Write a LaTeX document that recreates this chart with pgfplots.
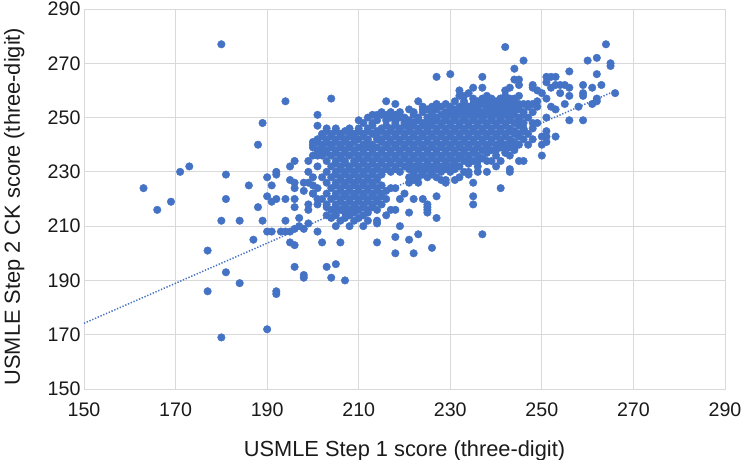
\documentclass[border=0pt]{standalone}
\usepackage{pgfplots}
\pgfplotsset{compat=1.18}
\usepackage{fontspec}
\setmainfont{Liberation Sans}
\definecolor{ptblue}{HTML}{4472C4}
\definecolor{gridgray}{HTML}{D9D9D9}
\definecolor{txt}{HTML}{1A1A1A}
\begin{document}
\begin{tikzpicture}
\path[use as bounding box] (-84bp,-71bp) rectangle (660bp,389bp);
\begin{axis}[
  at={(0,0)}, anchor=south west, scale only axis, width=641bp, height=380bp,
  xmin=150, xmax=290, ymin=150, ymax=290,
  xtick={150,170,...,290}, ytick={150,170,...,290},
  grid=major, major grid style={draw=gridgray, line width=0.9bp},
  axis line style={draw=gridgray, line width=0.9bp},
  major tick length=0pt,
  /pgf/number format/assume math mode=true,
  tick label style={font=\fontsize{19.7}{22}\selectfont, text=txt},
  xticklabel style={anchor=center, yshift=-21bp},
  label style={font=\fontsize{21.9}{25}\selectfont, text=txt},
  xlabel={USMLE Step 1 score (three-digit)},
  ylabel={USMLE Step 2 CK score (three-digit)},
  xlabel style={at={(axis description cs:0.5,-0.162)}, anchor=center},
  ylabel style={at={(axis description cs:-0.109,0.48)}, anchor=center},
]
\addplot[only marks, mark=*, mark size=3.8bp, mark options={draw=ptblue, fill=ptblue}] coordinates {
(180,277) (194,256) (204,257) (201,251) (201,247) (189,248) (188,240) (200,241) (203,245) (203,241) (201,236) (202,238) (195,232) (196,234) (173,232) (171,230) (181,229) (163,224) (169,219) (166,216) (181,220) (186,225) (190,228) (192,230) (192,229) (191,225) (195,227) (196,226) (196,224) (198,226) (198,223) (200,225) (200,222) (190,221) (191,219) (192,220) (194,220) (196,220) (196,217) (199,218) (199,216) (201,220) (188,217) (180,212) (184,212) (189,212) (194,212) (197,213) (199,211) (190,208) (191,208) (193,208) (194,208) (195,208) (196,209) (197,210) (198,209) (201,208) (203,217) (187,205) (195,204) (196,203) (202,204) (177,201) (181,193) (184,189) (177,186) (192,186) (192,185) (196,195) (198,192) (198,191) (203,195) (204,191) (190,172) (180,169)
(205,210) (206,204) (214,204) (218,206) (218,200) (221,205) (223,207) (222,200) (226,202) (205,196) (207,190) (219,210) (227,213) (227,221) (225,216) (225,218) (224,220) (222,220) (221,215) (219,220) (220,222) (217,216) (218,216) (214,212) (214,211) (212,212) (229,227) (231,227) (232,228)
(250,243) (250,240) (250,236) (244,239) (241,234) (245,234) (246,234) (243,231) (238,230) (241,224) (235,226) (235,221) (235,218) (225,217) (225,215) (228,227) (229,226) (234,229) (237,235) (235,234) (238,234) (240,238) (242,240) (241,240) (244,245) (244,244) (243,230) (234,230) (237,207)
(227,265) (230,266) (232,260) (232,258) (216,256) (218,255) (223,256) (224,252) (230,254) (220,250) (221,248) (215,251) (214,249) (215,246) (210,246) (210,245) (209,243) (207,242) (214,242) (207,245) (210,249) (211,248) (214,245) (214,251) (215,252) (216,249) (219,252) (224,253) (222,248) (225,249) (246,271) (237,265) (244,268) (245,264) (245,262) (243,261) (242,260) (248,262) (249,260) (251,265) (235,261) (237,261) (234,259) (233,258) (238,258) (239,257) (241,257) (242,258) (244,257) (245,258) (246,255) (247,255) (249,256) (249,254) (229,255) (224,254) (231,253) (233,253) (235,253) (238,255) (239,254) (241,253) (242,254) (244,255) (245,253) (228,251) (226,250) (225,248) (248,248) (251,245) (251,243) (242,276) (264,277) (260,271) (262,272) (265,270) (265,269) (256,267) (262,266) (244,264) (251,263) (252,265) (253,265) (253,262) (254,262) (255,262) (256,261) (248,261) (250,259) (252,261) (259,262) (261,261) (263,262) (256,258) (259,258) (254,259) (266,259) (262,256) (261,255) (251,257) (255,255) (258,254) (252,254) (253,253) (251,250) (256,249) (259,249) (251,241) (253,243) (259,259) (262,257)
(231,256) (233,256) (236,256) (238,256) (240,256) (242,256) (244,256)
(226,254) (228,254) (232,254) (234,254) (236,254) (238,254) (240,254) (243,254) (247,254)
(217,252) (222,252) (226,252) (229,252) (231,252) (233,252) (235,252) (237,252) (239,252) (241,252) (243,252) (246,252) (248,252)
(212,250) (217,250) (219,250) (223,250) (225,250) (227,250) (229,250) (231,250) (233,250) (235,250) (237,250) (239,250) (241,250) (243,250) (245,250) (247,250)
(213,248) (218,248) (220,248) (222,248) (224,248) (226,248) (228,248) (230,248) (232,248) (234,248) (236,248) (238,248) (240,248) (242,248) (244,248) (246,248) (249,248)
(203,246) (205,246) (208,246) (212,246) (217,246) (219,246) (221,246) (223,246) (225,246) (227,246) (229,246) (231,246) (233,246) (235,246) (237,246) (239,246) (241,246) (243,246) (246,246) (248,246)
(202,244) (204,244) (206,244) (209,244) (211,244) (213,244) (216,244) (218,244) (220,244) (222,244) (224,244) (226,244) (228,244) (230,244) (232,244) (234,244) (236,244) (238,244) (240,244) (242,244) (245,244) (247,244)
(201,242) (203,242) (205,242) (207,242) (210,242) (212,242) (215,242) (217,242) (219,242) (221,242) (223,242) (225,242) (227,242) (229,242) (231,242) (233,242) (235,242) (237,242) (239,242) (241,242) (243,242) (246,242) (248,242)
(200,240) (202,240) (204,240) (206,240) (208,240) (211,240) (213,240) (216,240) (218,240) (220,240) (222,240) (224,240) (226,240) (228,240) (230,240) (232,240) (234,240) (236,240) (238,240) (240,240) (243,240) (245,240) (247,240)
(201,238) (203,238) (205,238) (207,238) (209,238) (211,238) (213,238) (215,238) (217,238) (219,238) (221,238) (223,238) (225,238) (227,238) (229,238) (231,238) (233,238) (235,238) (237,238) (239,238) (242,238) (244,238)
(200,236) (202,236) (204,236) (206,236) (208,236) (210,236) (212,236) (214,236) (216,236) (218,236) (220,236) (222,236) (224,236) (226,236) (228,236) (230,236) (232,236) (234,236) (236,236) (240,236) (243,236)
(199,234) (203,234) (205,234) (207,234) (209,234) (211,234) (213,234) (215,234) (217,234) (219,234) (221,234) (223,234) (225,234) (227,234) (229,234) (231,234) (233,234) (236,234) (239,234)
(201,232) (204,232) (206,232) (208,232) (210,232) (212,232) (214,232) (216,232) (218,232) (220,232) (222,232) (224,232) (226,232) (228,232) (230,232) (232,232) (236,232) (240,232)
(199,230) (203,230) (205,230) (207,230) (209,230) (211,230) (213,230) (215,230) (217,230) (219,230) (222,230) (224,230) (226,230) (228,230) (230,230) (233,230) (236,230)
(200,228) (202,228) (204,228) (206,228) (208,228) (210,228) (212,228) (214,228) (221,228) (223,228) (225,228) (227,228)
(199,226) (203,226) (205,226) (207,226) (209,226) (211,226) (213,226) (221,226) (223,226)
(201,224) (204,224) (206,224) (208,224) (210,224) (212,224) (214,224) (217,224) (218,224)
(200,222) (203,222) (205,222) (207,222) (209,222) (211,222) (213,222) (215,222)
(202,220) (204,220) (206,220) (208,220) (210,220) (212,220) (214,220) (216,220)
(201,218) (203,218) (205,218) (207,218) (209,218) (211,218) (213,218) (215,218)
(204,216) (206,216) (208,216) (210,216) (212,216) (214,216)
(203,214) (205,214) (208,214) (211,214) (216,214)
(206,212) (209,212) (208,210) (211,210)
(235,257) (237,257) (241,257) (243,257)
(227,255) (233,255) (235,255) (237,255) (239,255) (241,255) (243,255) (245,255) (248,255)
(221,253) (225,253) (227,253) (230,253) (232,253) (234,253) (236,253) (238,253) (240,253) (242,253) (244,253)
(213,251) (216,251) (218,251) (222,251) (226,251) (230,251) (232,251) (234,251) (236,251) (238,251) (240,251) (242,251) (244,251) (246,251)
(218,249) (221,249) (223,249) (227,249) (229,249) (231,249) (233,249) (235,249) (237,249) (239,249) (241,249) (243,249) (245,249)
(213,247) (216,247) (218,247) (220,247) (222,247) (224,247) (226,247) (228,247) (230,247) (232,247) (234,247) (236,247) (238,247) (240,247) (242,247) (245,247)
(205,245) (208,245) (210,245) (212,245) (215,245) (217,245) (219,245) (221,245) (223,245) (225,245) (227,245) (229,245) (231,245) (233,245) (235,245) (237,245) (239,245) (241,245) (243,245) (246,245)
(202,243) (204,243) (206,243) (208,243) (211,243) (214,243) (216,243) (218,243) (220,243) (222,243) (224,243) (226,243) (228,243) (230,243) (232,243) (234,243) (236,243) (238,243) (240,243) (242,243) (245,243)
(201,241) (203,241) (205,241) (207,241) (209,241) (212,241) (215,241) (217,241) (219,241) (221,241) (223,241) (225,241) (227,241) (229,241) (231,241) (233,241) (235,241) (237,241) (239,241) (241,241) (244,241)
(200,239) (202,239) (204,239) (206,239) (208,239) (210,239) (212,239) (214,239) (216,239) (218,239) (220,239) (222,239) (224,239) (226,239) (228,239) (230,239) (232,239) (234,239) (236,239) (238,239) (241,239) (243,239)
(201,237) (203,237) (205,237) (207,237) (209,237) (211,237) (213,237) (215,237) (217,237) (219,237) (221,237) (223,237) (225,237) (227,237) (229,237) (231,237) (233,237) (235,237) (238,237) (242,237)
(206,235) (210,235) (212,235) (214,235) (216,235) (218,235) (220,235) (222,235) (224,235) (226,235) (228,235) (230,235) (232,235) (234,235) (237,235)
(205,233) (207,233) (209,233) (211,233) (213,233) (215,233) (217,233) (219,233) (221,233) (223,233) (225,233) (227,233) (229,233) (231,233) (234,233)
(206,231) (208,231) (210,231) (212,231) (214,231) (216,231) (218,231) (221,231) (223,231) (225,231) (227,231) (229,231) (231,231)
(205,229) (207,229) (209,229) (211,229) (213,229) (215,229) (222,229) (224,229) (226,229)
(206,227) (208,227) (210,227) (212,227) (214,227) (222,227)
(205,225) (207,225) (209,225) (211,225) (213,225) (215,225)
(206,223) (208,223) (210,223) (212,223) (214,223) (216,223)
(205,221) (207,221) (209,221) (211,221) (213,221) (215,221)
(206,219) (208,219) (210,219) (212,219) (214,219)
(205,217) (207,217) (209,217) (211,217) (213,217)
(205,215) (207,215) (209,215) (212,215)
(204,213) (207,213) (210,213)
};
\addplot[ptblue, line width=1.5bp, dash pattern=on 1.3bp off 1.7bp] coordinates {(150,174.2) (266.1,259.9)};
\end{axis}
\end{tikzpicture}
\end{document}
